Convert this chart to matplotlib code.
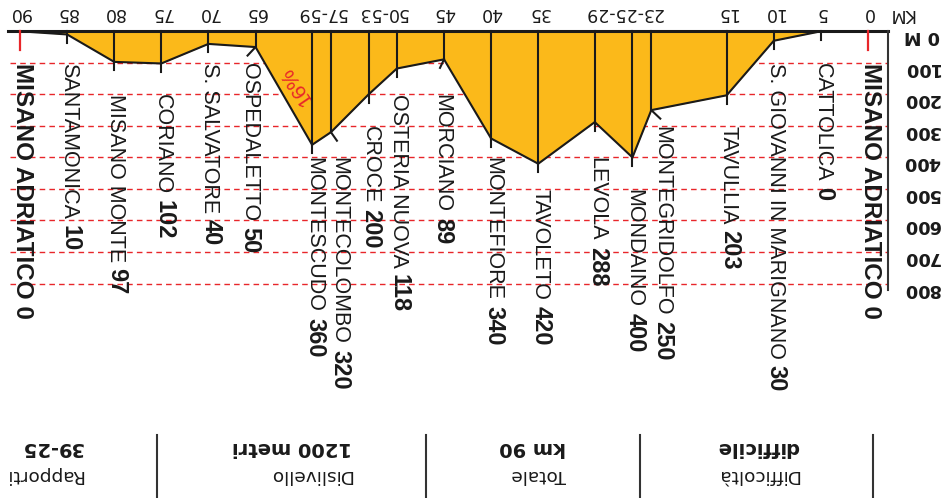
import math
import matplotlib
matplotlib.use("Agg")
import matplotlib.pyplot as plt
from matplotlib.transforms import offset_copy, blended_transform_factory

# route profile: km from start, elevation (m), town
km = [0, 5, 10, 15, 23, 25, 29, 35, 40, 45, 50, 53, 57, 59, 65, 70, 75, 80, 85, 90]
elev = [0, 0, 30, 203, 250, 400, 288, 420, 340, 89, 118, 200, 320, 360, 50, 40, 102, 97, 10, 0]
towns = ["MISANO ADRIATICO", "CATTOLICA", "S. GIOVANNI IN MARIGNANO", "TAVULLIA",
         "MONTEGRIDOLFO", "MONDAINO", "LEVOLA", "TAVOLETO", "MONTEFIORE", "MORCIANO",
         "OSTERIA NUOVA", "CROCE", "MONTECOLOMBO", "MONTESCUDO", "OSPEDALETTO",
         "S. SALVATORE", "CORIANO", "MISANO MONTE", "SANTAMONICA", "MISANO ADRIATICO"]

# km tick labels (grouped ticks share one label)
km_groups = [[0], [5], [10], [15], [23, 25, 29], [35], [40], [45], [50, 53], [57, 59],
             [65], [70], [75], [80], [85], [90]]
elev_ticks = [0, 100, 200, 300, 400, 500, 600, 700, 800]

slope_label = "16%"

table_titles = ["Difficoltà", "Totale", "Dislivello", "Rapporti"]
table_values = ["difficile", "km 90", "1200 metri", "39-25"]

orange = "#fbb91a"
red = "#e8262a"
ink = "#1a1a1a"

# pixel layout of the (upside-down) sheet
W, H = 945, 498
X0 = 868.0          # km 0
PXKM = 848.0 / 90   # px per km
Y0 = 31.3           # 0 m
PXM = 0.3153        # px per metre

fig = plt.figure(figsize=(W / 100, H / 100), dpi=100)
pg = fig.add_axes([0, 0, 1, 1])
pg.set_xlim(0, W)
pg.set_ylim(H, 0)
pg.axis("off")
ax = fig.add_axes([0, 0, 1, 1])
ax.set_xlim(X0 / PXKM, (X0 - W) / PXKM)
ax.set_ylim((H - Y0) / PXM, -Y0 / PXM)
ax.axis("off")

def kx(px):
    return (X0 - px) / PXKM

def my(py):
    return (py - Y0) / PXM

# grid
for e in elev_ticks[1:]:
    ax.plot([kx(10), kx(888)], [e, e], color=red, lw=1, ls=(0, (4, 3)), zorder=1)

# profile
ax.fill_between(km, 0, elev, color=orange, lw=0, zorder=2)
ax.plot(km, elev, color=ink, lw=1.5, zorder=4, solid_joinstyle="miter")

# baseline and right frame
ax.plot([kx(8), kx(888)], [0, 0], color=ink, lw=2.2, zorder=5)
ax.plot([kx(888), kx(888)], [0, my(290)], color="#333333", lw=1.5, zorder=5)

# leader ticks (lean of the short tail below each vertex, px)
lean = {65: -8, 45: -4, 57: 6, 23: 9}
for k, e in zip(km, elev):
    if k in (km[0], km[-1]):
        ax.plot([k, k], [0, 60], color=red, lw=1.6, zorder=5)
        continue
    ax.plot([k, k], [0, e], color=ink, lw=1.5, zorder=4)
    ax.plot([k, kx(X0 - k * PXKM + lean.get(k, 0))], [e, e + 27], color=ink, lw=1.5, zorder=4)

# town labels
renderer = fig.canvas.get_renderer()
for k, e, name in zip(km, elev, towns):
    start = math.ceil((e + 30) / 100.0) * 100
    dx = lean.get(k, 0) - 4
    tr = offset_copy(ax.transData, fig, x=dx, y=0, units="dots")
    if name == "MISANO ADRIATICO":
        ax.text(k, start, name + " " + str(e), transform=tr, rotation=270,
                rotation_mode="anchor", ha="left", va="baseline", color=ink,
                family="Liberation Sans", fontweight="bold", fontsize=17.5)
        continue
    t = ax.text(k, start, name, transform=tr, rotation=270, rotation_mode="anchor",
                ha="left", va="baseline", color=ink, family="Liberation Sans",
                fontsize=15.5)
    bb = t.get_window_extent(renderer)
    tr2 = offset_copy(ax.transData, fig, x=dx, y=-(bb.height + 6), units="dots")
    ax.text(k, start, str(e), transform=tr2, rotation=270, rotation_mode="anchor",
            ha="left", va="baseline", color=ink, family="Liberation Sans",
            fontweight="bold", fontsize=17)

# slope note
ax.text(kx(296), my(86), slope_label, rotation=124, ha="center", va="center",
        color=red, family="Liberation Sans", fontsize=15)

# km labels along the top
for g in km_groups:
    xc = (g[0] + g[-1]) / 2.0
    ax.text(xc, my(8.5), "-".join(str(v) for v in g), rotation=180,
            rotation_mode="anchor", ha="center", va="baseline", color=ink,
            family="DejaVu Sans", fontsize=12.5)
pg.text(901, 8.5, "KM", rotation=180, rotation_mode="anchor", ha="center",
        va="baseline", color=ink, family="DejaVu Sans", fontsize=12.5)

# elevation labels on the right
bt = blended_transform_factory(pg.transData, ax.transData)
for e in elev_ticks:
    lab = "0 M" if e == 0 else str(e)
    ax.text(940, e, lab, transform=bt, rotation=180, rotation_mode="anchor",
            ha="left", va="baseline", color=ink, family="DejaVu Sans",
            fontweight="bold", fontsize=12.7)

# summary table
seps = [873, 640, 426, 157]
for s, title, val in zip(seps, table_titles, table_values):
    pg.plot([s, s], [435, 498], color="#333333", lw=1.5)
    pg.text(s - 74, 469.5, title, rotation=180, rotation_mode="anchor", ha="left",
            va="baseline", color=ink, family="DejaVu Sans", fontsize=13.3)
    pg.text(s - 74, 442, val, rotation=180, rotation_mode="anchor", ha="left",
            va="baseline", color=ink, family="DejaVu Sans", fontweight="bold",
            fontsize=14)

fig.savefig("out.png", dpi=100)
